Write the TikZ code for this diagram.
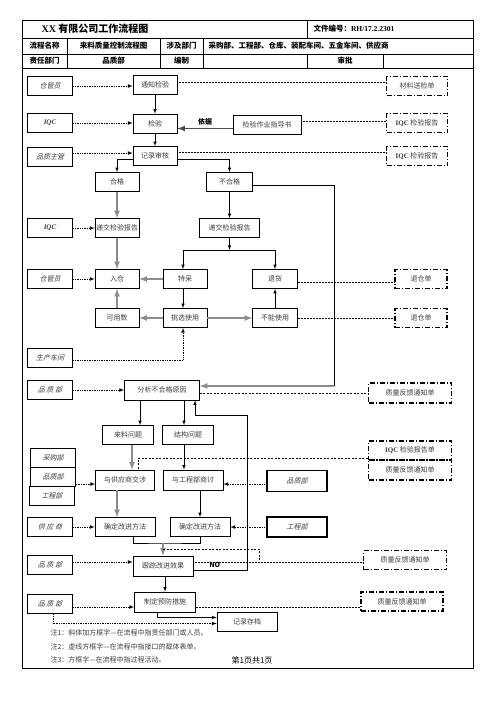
\documentclass[tikz,border=0pt]{standalone}
\usepackage{fontspec}
\usepackage{tikz}
\usepackage{xcolor}
\usetikzlibrary{arrows}
\setmainfont{Noto Sans CJK SC}
\newfontfamily\rolefont[FakeSlant=0.25]{Noto Sans CJK SC}
\newfontfamily\serif{Liberation Serif}
\newcommand{\boxfont}{\fontsize{7}{8}\selectfont}
\definecolor{boxtext}{RGB}{60, 60, 60}
\definecolor{pipe}{RGB}{140, 140, 140}
\tikzstyle{proc} = [
    rectangle,
    draw=black,
    line width=0.6pt,
    minimum width=44pt,
    minimum height=19pt,
    inner sep=1pt,
    text=boxtext,
    font=\boxfont
]
\tikzstyle{role} = [
    rectangle,
    draw=black,
    line width=1.6pt,
    minimum width=45pt,
    minimum height=19pt,
    inner sep=1pt,
    text=boxtext,
    font=\rolefont\boxfont
]
\tikzstyle{rolethin} = [role, line width=0.6pt]
\tikzstyle{doc} = [
    rectangle,
    draw=black,
    line width=1.1pt,
    dash pattern=on 5pt off 2pt on 1pt off 2pt,
    minimum width=61pt,
    minimum height=19pt,
    inner sep=1pt,
    text=boxtext,
    font=\boxfont
]
\tikzstyle{arrow} = [line width=0.6pt, -latex, draw=black]
\tikzstyle{grayarrow} = [line width=1.6pt, -latex, draw=pipe]
\tikzstyle{dotarrow} = [line width=0.7pt, densely dotted, -latex]
\tikzstyle{dotline} = [line width=0.5pt, densely dotted]
\tikzstyle{dashline} = [line width=0.5pt, dash pattern=on 2pt off 1.5pt]
\tikzstyle{link} = [line width=0.6pt, draw=black]
\tikzstyle{head} = [font=\fontsize{7.5}{8}\selectfont\bfseries]

\begin{document}
\begin{tikzpicture}[x=1pt, y=-1pt]
    \useasboundingbox (0,0) rectangle (496,702);

    % frame and header table
    \draw[line width=0.9pt] (22,20) rectangle (473,668);
    \draw[line width=0.8pt] (22,38) -- (473,38);
    \draw[line width=0.8pt] (22,54) -- (473,54);
    \draw[line width=0.8pt] (22,68) -- (473,68);
    \draw[line width=0.8pt] (307,20) -- (307,38);
    \foreach \xpos in {67,160,203} {
        \draw[line width=0.8pt] (\xpos,38) -- (\xpos,68);
    }
    \draw[line width=0.8pt] (307,54) -- (307,68);
    \draw[line width=0.8pt] (383,54) -- (383,68);

    \node[anchor=west, font=\fontsize{10}{12}\selectfont\bfseries] (title) at (38,29)
        {{\serif XX} 有限公司工作流程图};
    \node[anchor=west, head] (fileno) at (310,29) {文件编号：{\serif RH/17.2.2301}};
    \node[head] (hname) at (44.5,46) {流程名称};
    \node[head] (flow) at (113.5,46) {来料质量控制流程图};
    \node[head] (hdept) at (181.5,46) {涉及部门};
    \node[anchor=west, head] (depts) at (205,46) {采购部、工程部、仓库、装配车间、五金车间、供应商};
    \node[head] (hresp) at (44.5,61) {责任部门};
    \node[head] (resp) at (113.5,61) {品质部};
    \node[head] (hmake) at (181.5,61) {编制};
    \node[head] (happr) at (345,61) {审批};

    % roles on the left
    \node[role] (cg1) at (50,86) {仓管员};
    \node[role] (iqc1) at (50,123) {{\serif\bfseries\itshape IQC}};
    \node[role] (pz) at (50,157) {品质主管};
    \node[role] (iqc2) at (50,228) {{\serif\bfseries\itshape IQC}};
    \node[role] (cg2) at (50,279) {仓管员};
    \node[role] (sc) at (50,358) {生产车间};
    \node[role] (pq1) at (50,390) {品\ 质\ 部};
    \node[rolethin] (cgb) at (53,457.5) {采购部};
    \node[rolethin] (pqb) at (53,476.5) {品质部};
    \node[role] (gcb) at (52,496) {工程部};
    \node[role] (gys) at (50,527) {供\ 应\ 商};
    \node[role] (pq2) at (50,565) {品\ 质\ 部};
    \node[role] (pq3) at (50,604) {品\ 质\ 部};

    % process steps
    \node[proc] (tzjy) at (155,85) {通知检验};
    \node[proc] (jy) at (155,123.5) {检验};
    \node[proc, minimum width=68pt] (zds) at (267,124.5) {检验作业指导书};
    \node[proc] (jlsh) at (155,156) {记录审核};
    \node[proc] (hg) at (117,182) {合格};
    \node[proc, minimum width=46pt] (bhg) at (229.5,182) {不合格};
    \node[proc] (djL) at (117,228) {递交检验报告};
    \node[proc, minimum width=60pt] (djR) at (229.5,228) {递交检验报告};
    \node[proc] (rc) at (117,279) {入仓};
    \node[proc] (tc) at (185,279) {特采};
    \node[proc, minimum width=45pt] (th) at (275,279) {退货};
    \node[proc] (kys) at (117,318) {可用数};
    \node[proc] (txsy) at (185,318) {挑选使用};
    \node[proc, minimum width=45pt] (bnsy) at (275,318) {不能使用};
    \node[proc, minimum width=75pt, minimum height=20pt] (fx) at (162,390) {分析不合格原因};
    \node[proc, minimum width=51pt] (llwt) at (128,435) {来料问题};
    \node[proc, minimum width=51pt] (jgwt) at (188,435) {结构问题};
    \node[proc, minimum width=59pt, minimum height=20pt] (gysjs) at (125,480) {与供应商交涉};
    \node[proc, minimum width=60pt, minimum height=20pt] (gcbst) at (193,480) {与工程部商讨};
    \node[proc, minimum width=60pt] (qdL) at (125,527) {确定改进方法};
    \node[proc, minimum width=60pt] (qdR) at (200,527) {确定改进方法};
    \node[proc, minimum width=60pt, minimum height=20pt] (gz) at (163,566) {跟踪改进效果};
    \node[proc, minimum width=61pt, minimum height=20pt] (zd) at (165,602) {制定预防措施};
    \node[proc, minimum width=60pt] (jlcd) at (247,621.5) {记录存档};

    % forms and roles on the right
    \node[doc] (clsj) at (417,86) {材料送检单};
    \node[doc] (iqcr1) at (417,123) {{\serif\bfseries IQC} 检验报告};
    \node[doc] (iqcr2) at (417,156) {{\serif\bfseries IQC} 检验报告};
    \node[doc, minimum width=52pt] (tcd1) at (421,279) {退仓单};
    \node[doc, minimum width=52pt] (tcd2) at (421,318) {退仓单};
    \node[doc, minimum width=83pt, minimum height=20pt] (fk1) at (410,393) {质量反馈通知单};
    \node[doc, minimum width=83pt] (iqcd) at (410,450.5) {{\serif\bfseries IQC} 检验报告单};
    \node[doc, minimum width=83pt, minimum height=20pt] (fk2) at (410,470) {质量反馈通知单};
    \node[role, minimum width=60pt, minimum height=21pt] (pqR) at (297,481) {品质部};
    \node[role, minimum width=60pt, minimum height=20pt] (gcR) at (297,527) {工程部};
    \node[doc, minimum width=83pt] (fk3) at (405,560) {质量反馈通知单};
    \node[doc, minimum width=82pt] (fk4) at (402,601.5) {质量反馈通知单};

    % connectors
    \draw[dotarrow] (cg1.east) -- (cg1.east -| tzjy.west);
    \draw[dotline] ([yshift=3pt]tzjy.east) -- ([yshift=3pt]tzjy.east -| clsj.west);
    \draw[arrow] (tzjy) -- (jy);
    \draw[dotarrow] (iqc1.east) -- (iqc1.east -| jy.west);
    \draw[grayarrow, draw=black!70] ([yshift=-4pt]zds.west) -- ([yshift=-4pt]zds.west -| jy.east)
        node[midway, above=-1pt, text=black, font=\boxfont\bfseries] {依据};
    \draw[dotline] ([yshift=3pt]zds.east) -- ([yshift=3pt]zds.east -| iqcr1.west);
    \draw[arrow] (jy) -- (jlsh);
    \draw[dotarrow] ([yshift=4pt]pz.east) -- ([yshift=4pt]pz.east -| jlsh.west);
    \draw[dotline] ([yshift=4pt]jlsh.east) -- ([yshift=4pt]jlsh.east -| iqcr2.west);
    \draw[arrow] ([yshift=-3pt]jlsh.west) -| (hg.north);
    \draw[arrow] ([yshift=-3pt]jlsh.east) -| (bhg.north);
    \draw[grayarrow] (hg) -- (djL);
    \draw[arrow] (bhg) -- (djR);
    \draw[dotarrow] (iqc2.east) -- (iqc2.east -| djL.west);
    \draw[grayarrow] (djL) -- (rc);

    \coordinate (split) at (229.5,250);
    \draw[arrow] (djR.south) -- (split);
    \draw[arrow] (split) -| ([xshift=-2pt]tc.north);
    \draw[arrow] (split) -| (th.north);

    \coordinate (turn) at (334,386);
    \draw[link] ([yshift=-3pt]bhg.east) -| (turn);
    \draw[grayarrow] (turn) -- (turn -| fx.east);

    \draw[grayarrow] (tc) -- (rc);
    \draw[arrow] ([xshift=-2pt]tc.south) -- ([xshift=-2pt]txsy.north);
    \draw[grayarrow] (kys) -- (rc);
    \draw[grayarrow] (txsy) -- (kys);
    \draw[grayarrow] (txsy) -- (bnsy);
    \draw[arrow] (bnsy) -- (th);
    \draw[dotline] ([yshift=-3pt]th.east) -- ([yshift=-3pt]th.east -| tcd1.west);
    \draw[dotline] (bnsy.east) -- (bnsy.east -| tcd2.west);
    \draw[dotarrow] (cg2) -- (rc);
    \draw[dotarrow] ([yshift=-2pt]sc.east) -| ([xshift=-2pt]txsy.south);

    \draw[dotarrow] (pq1) -- (fx);
    \draw[dashline] ([yshift=-3pt]fx.east) -- ([yshift=-3pt]fx.east -| fk1.west);
    \draw[arrow] ([xshift=-22pt]fx.south) -- ([xshift=-22pt]fx.south |- llwt.north);
    \draw[arrow] ([xshift=22pt]fx.south) -- ([xshift=22pt]fx.south |- jgwt.north);

    \coordinate (loopA) at (247,415);
    \draw[arrow] ([yshift=-4pt]gz.east) -| node[pos=0.2, above=-1.5pt, text=black, font=\boxfont\bfseries] {NO}
        (loopA) -| ([xshift=33pt]fx.south);

    \draw[grayarrow] ([xshift=4pt]llwt.south) -- ([xshift=4pt]llwt.south |- gysjs.north);
    \draw[arrow] ([xshift=-4pt]jgwt.south) -- ([xshift=-4pt]jgwt.south |- gcbst.north);
    \draw[dashline] ([yshift=-8pt]iqcd.west) -| ([xshift=13pt]gysjs.north);
    \draw[dotarrow] ([yshift=-4pt]gysjs.west -| pqb.east) -- ([yshift=-4pt]gysjs.west);
    \draw[dotarrow] ([yshift=-3pt]pqR.west) -- ([yshift=-3pt]pqR.west -| gcbst.east);

    \draw[grayarrow] ([xshift=-8pt]gysjs.south) -- ([xshift=-8pt]gysjs.south |- qdL.north);
    \draw[arrow] ([xshift=7pt]gcbst.south) -- ([xshift=7pt]gcbst.south |- qdR.north);
    \draw[dotarrow] (gys) -- (qdL);
    \draw[dotarrow] (gcR) -- (qdR);

    \coordinate (merge) at (163,543);
    \draw[link] ([xshift=8pt]qdL.south) |- (merge) -| (qdR.south);
    \draw[grayarrow] (merge) -- (merge |- gz.north);
    \coordinate (tap) at (163,549);
    \coordinate (tapend) at (259,562);
    \draw[dashline] (tap) -| (tapend);

    \draw[dotarrow] ([yshift=3pt]pq2.east) -- ([yshift=3pt]pq2.east -| gz.west);
    \draw[dotline] ([yshift=4pt]gz.east) -- ([yshift=4pt]gz.east -| fk3.west);
    \draw[arrow] ([xshift=2pt]gz.south) -- ([xshift=2pt]gz.south |- zd.north);

    \draw[dotarrow] ([yshift=-3pt]pq3.east) -- ([yshift=-3pt]pq3.east -| zd.west);
    \draw[dotline] ([yshift=-5pt]zd.east) -- ([yshift=-5pt]zd.east -| fk4.west);
    \draw[arrow] ([xshift=-8pt]zd.south) |- ([yshift=4pt]jlcd.west);
    \draw[dotarrow] ([xshift=3pt]pq3.south) |- ([yshift=-2pt]jlcd.west);

    % notes
    \node[anchor=west, font=\boxfont, text=boxtext] (note1) at (47,633) {注1：斜体加方框字—在流程中指责任部门或人员。};
    \node[anchor=west, font=\boxfont, text=boxtext] (note2) at (47,647) {注2：虚线方框字—在流程中指接口的载体表单。};
    \node[anchor=west, font=\boxfont, text=boxtext] (note3) at (47,660) {注3：方框字—在流程中指过程活动。};
    \node[font=\fontsize{8}{9}\selectfont] (page) at (252,660) {第1页共1页};
\end{tikzpicture}
\end{document}
